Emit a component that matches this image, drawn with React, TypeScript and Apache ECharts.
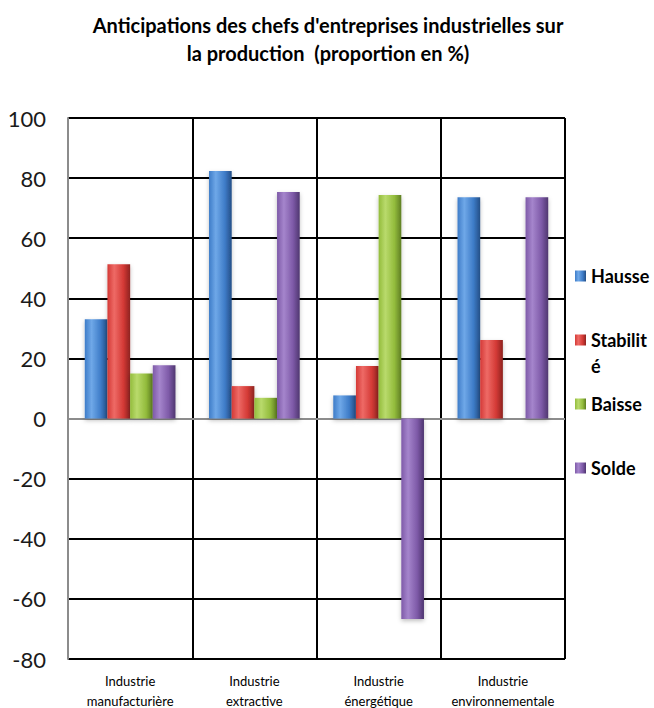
import React, { useEffect, useRef } from "react";
import * as echarts from "echarts";

const categories = [
  "Industrie\nmanufacturière",
  "Industrie\nextractive",
  "Industrie\nénergétique",
  "Industrie\nenvironnementale",
];
const seriesNames = ["Hausse", "Stabilité", "Baisse", "Solde"];
const hausse = [33, 82.4, 7.7, 73.6];
const stabilite = [51.3, 10.8, 17.5, 26.1];
const baisse = [15, 6.9, 74.4, 0];
const solde = [17.7, 75.4, -66.7, 73.6];
const yTicks = { min: -80, max: 100, interval: 20 };

const palettes = [
  ["#6FA8E8", "#3E7CC8", "#244F86"],
  ["#EE6A66", "#D43A36", "#8E2320"],
  ["#B9DA6C", "#93BC3C", "#5E7E22"],
  ["#A585CC", "#7E5AA8", "#4F3670"],
];

function grad(p: string[]) {
  return new echarts.graphic.LinearGradient(0, 0, 1, 0, [
    { offset: 0, color: p[1] },
    { offset: 0.3, color: p[0] },
    { offset: 0.7, color: p[1] },
    { offset: 1, color: p[2] },
  ]);
}

export default function App() {
  const ref = useRef<HTMLDivElement>(null);
  useEffect(() => {
    if (!ref.current) return;
    const chart = echarts.init(ref.current, null, { renderer: "svg" });
    const font = "Lato, 'Open Sans', sans-serif";
    const data = [hausse, stabilite, baisse, solde];
    const legendTops = [276, 340, 404, 468];
    chart.setOption({
      animation: false,
      textStyle: { fontFamily: font },
      title: {
        text: "Anticipations des chefs d'entreprises industrielles sur\nla production  (proportion en %)",
        left: 328,
        textAlign: "center",
        top: 11,
        padding: 0,
        textStyle: {
          fontFamily: font,
          fontSize: 20,
          fontWeight: "bold",
          lineHeight: 28,
          color: "#000",
        },
      },
      legend: seriesNames.map((n, i) => ({
        data: [n],
        orient: "vertical",
        left: 575,
        top: legendTops[i] - 9,
        padding: 0,
        itemWidth: 11,
        itemHeight: 11,
        icon: "rect",
        formatter: (name: string) => (name === "Stabilité" ? "Stabilit" : name),
        textStyle: { fontFamily: font, fontSize: 18, fontWeight: "bold", color: "#000" },
        selectedMode: false,
      })),
      graphic: [
        {
          type: "text",
          left: 591,
          top: 357,
          style: { text: "é", fontFamily: font, fontSize: 18, fontWeight: "bold", fill: "#000" },
        },
      ],
      grid: { left: 68, top: 118, right: 89, bottom: 49, outerBoundsMode: "none", containLabel: false },
      xAxis: {
        type: "category",
        data: categories,
        axisLine: { show: false },
        axisTick: { show: false },
        splitLine: { show: true, lineStyle: { color: "#000", width: 2 } },
        axisLabel: {
          fontFamily: font,
          fontSize: 13,
          lineHeight: 20,
          color: "#000",
          margin: 12,
          interval: 0,
        },
      },
      yAxis: {
        type: "value",
        min: yTicks.min,
        max: yTicks.max,
        interval: yTicks.interval,
        axisLine: { show: true, lineStyle: { color: "#8c8c8c", width: 2 } },
        axisTick: { show: false },
        splitLine: { show: true, lineStyle: { color: "#000", width: 2 } },
        axisLabel: { fontFamily: font, fontSize: 22, color: "#1a1a1a", margin: 22 },
      },
      series: seriesNames.map((n, i) => ({
        name: n,
        type: "bar",
        data: data[i],
        barGap: "0%",
        barCategoryGap: "27%",
        itemStyle: {
          color: grad(palettes[i]),
          shadowColor: "rgba(0,0,0,0.25)",
          shadowBlur: 4,
          shadowOffsetY: 2,
        },
        ...(i === 0
          ? {
              markLine: {
                silent: true,
                symbol: "none",
                label: { show: false },
                lineStyle: { color: "#8c8c8c", width: 2, type: "solid" },
                data: [{ yAxis: 0 }],
                z: 1,
              },
            }
          : {}),
      })),
    });
    return () => chart.dispose();
  }, []);
  return <div ref={ref} style={{ width: 654, height: 708, position: "absolute", left: 0, top: 0 }} />;
}
